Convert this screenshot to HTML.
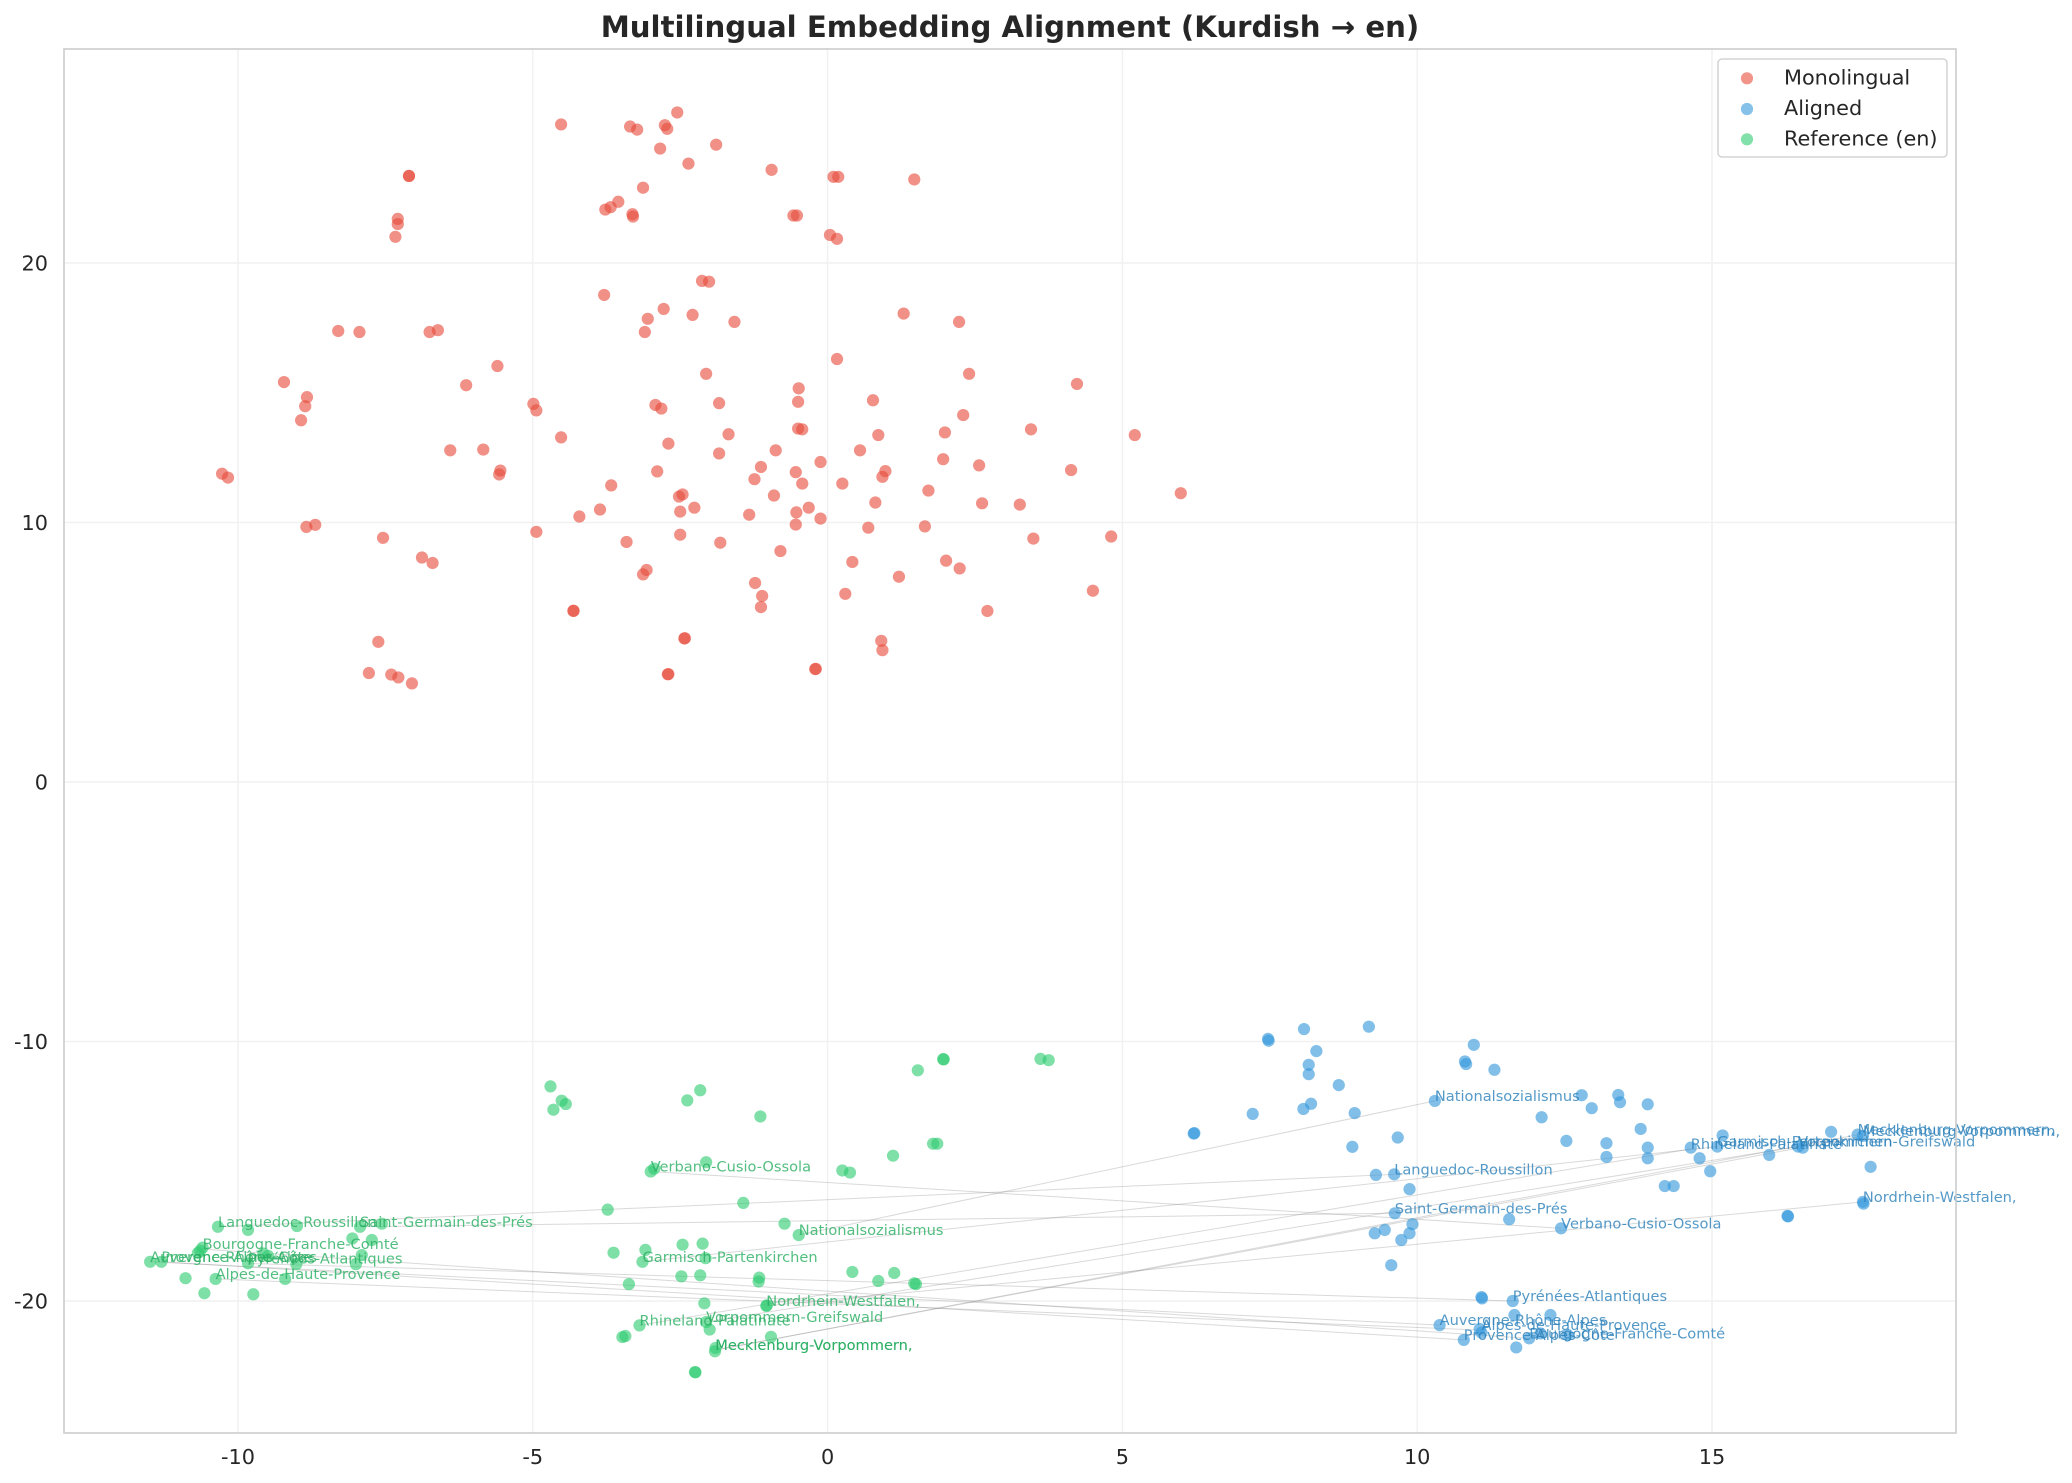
<!DOCTYPE html>
<html><head><meta charset="utf-8"><style>html,body{margin:0;padding:0;background:#fff;}svg{display:block;}</style></head>
<body>
<svg width="2072" height="1483" viewBox="0 0 2072 1483" font-family="'DejaVu Sans','Liberation Sans',sans-serif">
<rect x="0" y="0" width="2072" height="1483" fill="#fff"/>
<defs><ellipse id="d" cx="0" cy="0" rx="0.1035" ry="0.2351"/></defs>
<!-- grid -->
<g stroke="#f1f1f1" stroke-width="1.5">
<line x1="238" y1="49" x2="238" y2="1433"/><line x1="532.8" y1="49" x2="532.8" y2="1433"/><line x1="827.6" y1="49" x2="827.6" y2="1433"/><line x1="1122.4" y1="49" x2="1122.4" y2="1433"/><line x1="1417.2" y1="49" x2="1417.2" y2="1433"/><line x1="1712" y1="49" x2="1712" y2="1433"/>
<line x1="64" y1="263" x2="1956" y2="263"/><line x1="64" y1="522.5" x2="1956" y2="522.5"/><line x1="64" y1="782" x2="1956" y2="782"/><line x1="64" y1="1041.5" x2="1956" y2="1041.5"/><line x1="64" y1="1301" x2="1956" y2="1301"/>
</g>
<!-- connection lines -->
<g stroke="#808080" stroke-opacity="0.3" stroke-width="1">
<line x1="650.7" y1="1171.5" x2="1561.1" y2="1228.3"/>
<line x1="798.7" y1="1235.1" x2="1434.9" y2="1100.9"/>
<line x1="642.5" y1="1261.8" x2="1717.3" y2="1146.6"/>
<line x1="218" y1="1226.8" x2="1394.2" y2="1174.4"/>
<line x1="360" y1="1226.8" x2="1394.8" y2="1213.3"/>
<line x1="202.6" y1="1249.1" x2="1529.2" y2="1338.4"/>
<line x1="150.1" y1="1261.8" x2="1439.6" y2="1325.1"/>
<line x1="161.4" y1="1261.8" x2="1463.8" y2="1339.9"/>
<line x1="248" y1="1263.4" x2="1512.7" y2="1301"/>
<line x1="215.6" y1="1278.9" x2="1481.5" y2="1330.1"/>
<line x1="766.3" y1="1305.9" x2="1862.9" y2="1201.9"/>
<line x1="639.5" y1="1325.4" x2="1690.8" y2="1148.9"/>
<line x1="706.1" y1="1322" x2="1798.1" y2="1146.6"/>
<line x1="715.3" y1="1350" x2="1857.6" y2="1134.7"/>
<line x1="715.3" y1="1350" x2="1862.9" y2="1136"/>
</g>
<!-- data group -->
<g transform="matrix(58.96 0 0 -25.95 827.6 782)">
<g fill="#e74c3c" fill-opacity="0.62">
<use href="#d" x="-4.52" y="25.34"/><use href="#d" x="-3.35" y="25.26"/><use href="#d" x="-3.23" y="25.14"/><use href="#d" x="-2.76" y="25.31"/><use href="#d" x="-2.72" y="25.17"/><use href="#d" x="-2.84" y="24.41"/><use href="#d" x="-3.13" y="22.90"/><use href="#d" x="-3.55" y="22.36"/><use href="#d" x="-3.68" y="22.15"/><use href="#d" x="-3.77" y="22.06"/><use href="#d" x="-3.31" y="21.88"/><use href="#d" x="-3.30" y="21.79"/><use href="#d" x="-7.10" y="23.35"/><use href="#d" x="-7.10" y="23.36"/><use href="#d" x="-7.29" y="21.70"/><use href="#d" x="-7.29" y="21.50"/><use href="#d" x="-7.33" y="21.01"/><use href="#d" x="-3.79" y="18.77"/><use href="#d" x="-3.05" y="17.85"/><use href="#d" x="-3.10" y="17.34"/><use href="#d" x="-2.78" y="18.23"/><use href="#d" x="-8.30" y="17.38"/><use href="#d" x="-7.94" y="17.34"/><use href="#d" x="-6.75" y="17.34"/><use href="#d" x="-6.61" y="17.41"/><use href="#d" x="-5.60" y="16.03"/><use href="#d" x="-6.13" y="15.29"/><use href="#d" x="-9.22" y="15.41"/><use href="#d" x="-8.83" y="14.83"/><use href="#d" x="-8.86" y="14.48"/><use href="#d" x="-8.93" y="13.94"/><use href="#d" x="-4.99" y="14.57"/><use href="#d" x="-4.94" y="14.32"/><use href="#d" x="-4.52" y="13.28"/><use href="#d" x="-2.92" y="14.53"/><use href="#d" x="-2.82" y="14.39"/><use href="#d" x="-2.70" y="13.04"/><use href="#d" x="-6.40" y="12.78"/><use href="#d" x="-5.84" y="12.81"/><use href="#d" x="-5.55" y="12.00"/><use href="#d" x="-5.57" y="11.85"/><use href="#d" x="-10.27" y="11.88"/><use href="#d" x="-10.17" y="11.73"/><use href="#d" x="-3.67" y="11.43"/><use href="#d" x="-2.89" y="11.97"/><use href="#d" x="-3.86" y="10.50"/><use href="#d" x="-4.21" y="10.23"/><use href="#d" x="-3.41" y="9.25"/><use href="#d" x="-4.94" y="9.64"/><use href="#d" x="-8.84" y="9.83"/><use href="#d" x="-8.69" y="9.91"/><use href="#d" x="-7.54" y="9.41"/><use href="#d" x="-6.88" y="8.65"/><use href="#d" x="-6.70" y="8.44"/><use href="#d" x="-3.07" y="8.17"/><use href="#d" x="-3.13" y="8.00"/><use href="#d" x="-4.31" y="6.59"/><use href="#d" x="-4.31" y="6.60"/><use href="#d" x="-7.62" y="5.40"/><use href="#d" x="-7.78" y="4.20"/><use href="#d" x="-7.40" y="4.14"/><use href="#d" x="-7.28" y="4.03"/><use href="#d" x="-7.05" y="3.80"/><use href="#d" x="-2.71" y="4.15"/><use href="#d" x="-2.70" y="4.16"/>
<use href="#d" x="-2.55" y="25.80"/><use href="#d" x="-1.89" y="24.56"/><use href="#d" x="-2.36" y="23.83"/><use href="#d" x="-0.95" y="23.59"/><use href="#d" x="0.10" y="23.32"/><use href="#d" x="0.18" y="23.32"/><use href="#d" x="1.47" y="23.22"/><use href="#d" x="-0.58" y="21.83"/><use href="#d" x="-0.52" y="21.83"/><use href="#d" x="0.04" y="21.08"/><use href="#d" x="0.16" y="20.93"/><use href="#d" x="-2.13" y="19.31"/><use href="#d" x="-2.01" y="19.28"/><use href="#d" x="-2.29" y="18.00"/><use href="#d" x="-1.58" y="17.73"/><use href="#d" x="1.29" y="18.05"/><use href="#d" x="2.23" y="17.73"/><use href="#d" x="0.16" y="16.30"/><use href="#d" x="-2.06" y="15.73"/><use href="#d" x="2.40" y="15.73"/><use href="#d" x="4.23" y="15.34"/><use href="#d" x="-0.49" y="15.17"/><use href="#d" x="-0.50" y="14.65"/><use href="#d" x="-1.84" y="14.60"/><use href="#d" x="0.77" y="14.71"/><use href="#d" x="2.30" y="14.14"/><use href="#d" x="-0.50" y="13.62"/><use href="#d" x="-0.43" y="13.59"/><use href="#d" x="-1.68" y="13.40"/><use href="#d" x="0.86" y="13.37"/><use href="#d" x="1.99" y="13.47"/><use href="#d" x="3.45" y="13.59"/><use href="#d" x="5.21" y="13.37"/><use href="#d" x="-1.84" y="12.66"/><use href="#d" x="-0.88" y="12.78"/><use href="#d" x="0.55" y="12.78"/><use href="#d" x="-0.12" y="12.33"/><use href="#d" x="1.96" y="12.44"/><use href="#d" x="2.57" y="12.20"/><use href="#d" x="-1.13" y="12.14"/><use href="#d" x="-0.54" y="11.94"/><use href="#d" x="-1.24" y="11.67"/><use href="#d" x="-0.43" y="11.50"/><use href="#d" x="0.25" y="11.50"/><use href="#d" x="0.98" y="11.98"/><use href="#d" x="0.93" y="11.76"/><use href="#d" x="4.13" y="12.02"/><use href="#d" x="5.99" y="11.13"/><use href="#d" x="-2.52" y="11.00"/><use href="#d" x="-2.46" y="11.08"/><use href="#d" x="-2.26" y="10.57"/><use href="#d" x="-2.50" y="10.42"/><use href="#d" x="-0.91" y="11.04"/><use href="#d" x="-1.33" y="10.30"/><use href="#d" x="-0.53" y="10.39"/><use href="#d" x="-0.32" y="10.57"/><use href="#d" x="-0.12" y="10.15"/><use href="#d" x="-0.54" y="9.92"/><use href="#d" x="0.81" y="10.77"/><use href="#d" x="1.71" y="11.23"/><use href="#d" x="2.62" y="10.74"/><use href="#d" x="3.26" y="10.69"/><use href="#d" x="0.69" y="9.80"/><use href="#d" x="1.65" y="9.85"/><use href="#d" x="3.49" y="9.38"/><use href="#d" x="4.81" y="9.46"/><use href="#d" x="-2.50" y="9.53"/><use href="#d" x="-1.82" y="9.22"/><use href="#d" x="-0.80" y="8.90"/><use href="#d" x="0.42" y="8.48"/><use href="#d" x="2.01" y="8.53"/><use href="#d" x="2.24" y="8.23"/><use href="#d" x="1.21" y="7.91"/><use href="#d" x="4.50" y="7.37"/><use href="#d" x="-1.23" y="7.67"/><use href="#d" x="-1.11" y="7.17"/><use href="#d" x="-1.13" y="6.74"/><use href="#d" x="0.30" y="7.25"/><use href="#d" x="2.71" y="6.59"/><use href="#d" x="-2.43" y="5.53"/><use href="#d" x="-2.42" y="5.54"/><use href="#d" x="0.91" y="5.44"/><use href="#d" x="0.93" y="5.08"/><use href="#d" x="-0.21" y="4.35"/><use href="#d" x="-0.20" y="4.36"/>
</g>
<g fill="#3498db" fill-opacity="0.62">
<use href="#d" x="7.47" y="-9.90"/><use href="#d" x="7.48" y="-9.97"/><use href="#d" x="8.08" y="-9.52"/><use href="#d" x="9.18" y="-9.43"/><use href="#d" x="8.29" y="-10.37"/><use href="#d" x="8.16" y="-10.90"/><use href="#d" x="8.16" y="-11.26"/><use href="#d" x="8.67" y="-11.68"/><use href="#d" x="10.96" y="-10.13"/><use href="#d" x="10.81" y="-10.77"/><use href="#d" x="10.83" y="-10.87"/><use href="#d" x="11.31" y="-11.09"/><use href="#d" x="7.21" y="-12.79"/><use href="#d" x="8.07" y="-12.60"/><use href="#d" x="8.20" y="-12.40"/><use href="#d" x="8.94" y="-12.76"/><use href="#d" x="10.30" y="-12.29"/><use href="#d" x="6.21" y="-13.55"/><use href="#d" x="6.22" y="-13.53"/><use href="#d" x="8.90" y="-14.06"/><use href="#d" x="9.67" y="-13.70"/><use href="#d" x="12.11" y="-12.92"/><use href="#d" x="12.79" y="-12.07"/><use href="#d" x="12.96" y="-12.57"/><use href="#d" x="13.41" y="-12.06"/><use href="#d" x="13.44" y="-12.34"/><use href="#d" x="13.91" y="-12.42"/><use href="#d" x="13.79" y="-13.37"/><use href="#d" x="12.53" y="-13.83"/><use href="#d" x="13.21" y="-13.92"/><use href="#d" x="13.21" y="-14.45"/><use href="#d" x="13.91" y="-14.09"/><use href="#d" x="13.91" y="-14.50"/><use href="#d" x="14.64" y="-14.09"/><use href="#d" x="14.79" y="-14.50"/><use href="#d" x="15.18" y="-13.62"/><use href="#d" x="15.09" y="-14.05"/><use href="#d" x="14.97" y="-15.00"/><use href="#d" x="14.20" y="-15.57"/><use href="#d" x="14.35" y="-15.57"/><use href="#d" x="15.97" y="-14.37"/><use href="#d" x="16.46" y="-14.05"/><use href="#d" x="16.54" y="-14.09"/><use href="#d" x="17.02" y="-13.48"/><use href="#d" x="17.47" y="-13.59"/><use href="#d" x="17.56" y="-13.64"/><use href="#d" x="17.69" y="-14.83"/><use href="#d" x="17.56" y="-16.18"/><use href="#d" x="17.57" y="-16.25"/><use href="#d" x="16.28" y="-16.72"/><use href="#d" x="16.29" y="-16.74"/><use href="#d" x="9.30" y="-15.14"/><use href="#d" x="9.61" y="-15.12"/><use href="#d" x="9.87" y="-15.69"/><use href="#d" x="9.62" y="-16.62"/><use href="#d" x="9.92" y="-17.04"/><use href="#d" x="9.28" y="-17.39"/><use href="#d" x="9.45" y="-17.26"/><use href="#d" x="9.87" y="-17.39"/><use href="#d" x="9.73" y="-17.65"/><use href="#d" x="9.56" y="-18.62"/><use href="#d" x="11.56" y="-16.85"/><use href="#d" x="12.44" y="-17.20"/><use href="#d" x="11.09" y="-19.85"/><use href="#d" x="11.10" y="-19.90"/><use href="#d" x="11.62" y="-20.00"/><use href="#d" x="11.65" y="-20.54"/><use href="#d" x="12.26" y="-20.54"/><use href="#d" x="10.38" y="-20.93"/><use href="#d" x="11.06" y="-21.08"/><use href="#d" x="11.09" y="-21.22"/><use href="#d" x="10.79" y="-21.50"/><use href="#d" x="11.90" y="-21.44"/><use href="#d" x="11.68" y="-21.79"/><use href="#d" x="12.09" y="-21.25"/><use href="#d" x="12.55" y="-21.31"/>
</g>
<g fill="#2ecc71" fill-opacity="0.62">
<use href="#d" x="-4.70" y="-11.73"/><use href="#d" x="-4.51" y="-12.28"/><use href="#d" x="-4.44" y="-12.41"/><use href="#d" x="-4.65" y="-12.63"/><use href="#d" x="-10.34" y="-17.14"/><use href="#d" x="-9.83" y="-17.26"/><use href="#d" x="-9.00" y="-17.11"/><use href="#d" x="-7.93" y="-17.14"/><use href="#d" x="-7.56" y="-17.02"/><use href="#d" x="-8.06" y="-17.59"/><use href="#d" x="-7.73" y="-17.65"/><use href="#d" x="-10.60" y="-17.94"/><use href="#d" x="-10.64" y="-18.06"/><use href="#d" x="-10.68" y="-18.15"/><use href="#d" x="-7.90" y="-18.23"/><use href="#d" x="-11.49" y="-18.49"/><use href="#d" x="-11.30" y="-18.49"/><use href="#d" x="-9.83" y="-18.55"/><use href="#d" x="-9.57" y="-18.17"/><use href="#d" x="-9.49" y="-18.26"/><use href="#d" x="-9.01" y="-18.58"/><use href="#d" x="-8.00" y="-18.58"/><use href="#d" x="-10.89" y="-19.12"/><use href="#d" x="-10.38" y="-19.15"/><use href="#d" x="-9.20" y="-19.15"/><use href="#d" x="-10.57" y="-19.70"/><use href="#d" x="-9.74" y="-19.74"/>
<use href="#d" x="1.96" y="-10.68"/><use href="#d" x="1.97" y="-10.69"/><use href="#d" x="1.53" y="-11.11"/><use href="#d" x="3.61" y="-10.67"/><use href="#d" x="3.75" y="-10.72"/><use href="#d" x="-2.16" y="-11.88"/><use href="#d" x="-2.38" y="-12.27"/><use href="#d" x="-1.14" y="-12.89"/><use href="#d" x="1.79" y="-13.94"/><use href="#d" x="1.86" y="-13.94"/><use href="#d" x="1.11" y="-14.40"/><use href="#d" x="-2.06" y="-14.65"/><use href="#d" x="-3.00" y="-15.01"/><use href="#d" x="-2.94" y="-14.90"/><use href="#d" x="0.25" y="-14.97"/><use href="#d" x="0.38" y="-15.05"/><use href="#d" x="-3.73" y="-16.48"/><use href="#d" x="-1.43" y="-16.22"/><use href="#d" x="-0.73" y="-17.02"/><use href="#d" x="-0.49" y="-17.46"/><use href="#d" x="-3.63" y="-18.14"/><use href="#d" x="-3.09" y="-18.03"/><use href="#d" x="-3.14" y="-18.49"/><use href="#d" x="-2.46" y="-17.83"/><use href="#d" x="-2.12" y="-17.79"/><use href="#d" x="-2.07" y="-18.35"/><use href="#d" x="-3.37" y="-19.35"/><use href="#d" x="-2.48" y="-19.05"/><use href="#d" x="-2.16" y="-19.01"/><use href="#d" x="-1.16" y="-19.10"/><use href="#d" x="-1.17" y="-19.25"/><use href="#d" x="0.42" y="-18.88"/><use href="#d" x="0.86" y="-19.23"/><use href="#d" x="1.13" y="-18.92"/><use href="#d" x="1.47" y="-19.32"/><use href="#d" x="1.50" y="-19.35"/><use href="#d" x="-2.09" y="-20.09"/><use href="#d" x="-1.04" y="-20.19"/><use href="#d" x="-1.03" y="-20.17"/><use href="#d" x="-3.19" y="-20.94"/><use href="#d" x="-3.48" y="-21.39"/><use href="#d" x="-3.43" y="-21.35"/><use href="#d" x="-2.06" y="-20.81"/><use href="#d" x="-2.00" y="-21.10"/><use href="#d" x="-0.96" y="-21.38"/><use href="#d" x="-1.91" y="-21.94"/><use href="#d" x="-1.90" y="-21.81"/><use href="#d" x="-2.25" y="-22.74"/><use href="#d" x="-2.24" y="-22.75"/>
</g>
</g>
<!-- labels -->
<g font-size="14.6" fill="#27ae60" fill-opacity="0.8">
<text x="650.7" y="1171.5">Verbano-Cusio-Ossola</text>
<text x="798.7" y="1235.1">Nationalsozialismus</text>
<text x="642.5" y="1261.8">Garmisch-Partenkirchen</text>
<text x="766.3" y="1305.9">Nordrhein-Westfalen,</text>
<text x="639.5" y="1325.4">Rhineland-Palatinate</text>
<text x="706.1" y="1322">Vorpommern-Greifswald</text>
<text x="715.3" y="1350">Mecklenburg-Vorpommern,</text>
<text x="715.3" y="1350">Mecklenburg-Vorpommern,</text>
<text x="218" y="1226.8">Languedoc-Roussillon</text>
<text x="360" y="1226.8">Saint-Germain-des-Prés</text>
<text x="202.6" y="1249.1">Bourgogne-Franche-Comté</text>
<text x="150.1" y="1261.8">Auvergne-Rhône-Alpes</text>
<text x="161.4" y="1261.8">Provence-Alpes-Côte</text>
<text x="248" y="1263.4">Pyrénées-Atlantiques</text>
<text x="215.6" y="1278.9">Alpes-de-Haute-Provence</text>
</g>
<g font-size="14.6" fill="#2980b9" fill-opacity="0.8">
<text x="1434.9" y="1100.9">Nationalsozialismus</text>
<text x="1394.2" y="1174.4">Languedoc-Roussillon</text>
<text x="1394.8" y="1213.3">Saint-Germain-des-Prés</text>
<text x="1561.1" y="1228.3">Verbano-Cusio-Ossola</text>
<text x="1512.7" y="1301">Pyrénées-Atlantiques</text>
<text x="1439.6" y="1325.1">Auvergne-Rhône-Alpes</text>
<text x="1481.5" y="1330.1">Alpes-de-Haute-Provence</text>
<text x="1463.8" y="1339.9">Provence-Alpes-Côte</text>
<text x="1529.2" y="1338.4">Bourgogne-Franche-Comté</text>
<text x="1717.3" y="1146.6">Garmisch-Partenkirchen</text>
<text x="1690.8" y="1148.9">Rhineland-Palatinate</text>
<text x="1798.1" y="1146.6">Vorpommern-Greifswald</text>
<text x="1857.6" y="1134.7">Mecklenburg-Vorpommern,</text>
<text x="1862.9" y="1136">Mecklenburg-Vorpommern,</text>
<text x="1862.9" y="1201.9">Nordrhein-Westfalen,</text>
</g>
<!-- frame -->
<rect x="64" y="49" width="1892" height="1384" fill="none" stroke="#cccccc" stroke-width="1.6"/>
<!-- ticks -->
<g font-size="20.8" fill="#262626" text-anchor="middle">
<text x="238" y="1464">-10</text><text x="532.8" y="1464">-5</text><text x="827.6" y="1464">0</text><text x="1122.4" y="1464">5</text><text x="1417.2" y="1464">10</text><text x="1712" y="1464">15</text>
</g>
<g font-size="20.8" fill="#262626" text-anchor="end">
<text x="48" y="270.6">20</text><text x="48" y="530.1">10</text><text x="48" y="789.6">0</text><text x="48" y="1049.1">-10</text><text x="48" y="1308.6">-20</text>
</g>
<!-- title -->
<text x="1010" y="37" font-size="29.2" font-weight="bold" fill="#262626" text-anchor="middle">Multilingual Embedding Alignment (Kurdish → en)</text>
<!-- legend -->
<rect x="1718" y="59" width="229" height="98" rx="4" ry="4" fill="#fff" fill-opacity="0.8" stroke="#cccccc" stroke-width="1.3"/>
<circle cx="1747" cy="78.3" r="6.1" fill="#e74c3c" fill-opacity="0.6"/>
<circle cx="1747" cy="109" r="6.1" fill="#3498db" fill-opacity="0.6"/>
<circle cx="1747" cy="139.3" r="6.1" fill="#2ecc71" fill-opacity="0.6"/>
<g font-size="20.8" fill="#262626">
<text x="1784" y="84.5">Monolingual</text>
<text x="1784" y="115.2">Aligned</text>
<text x="1784" y="145.5">Reference (en)</text>
</g>
</svg>
</body></html>
